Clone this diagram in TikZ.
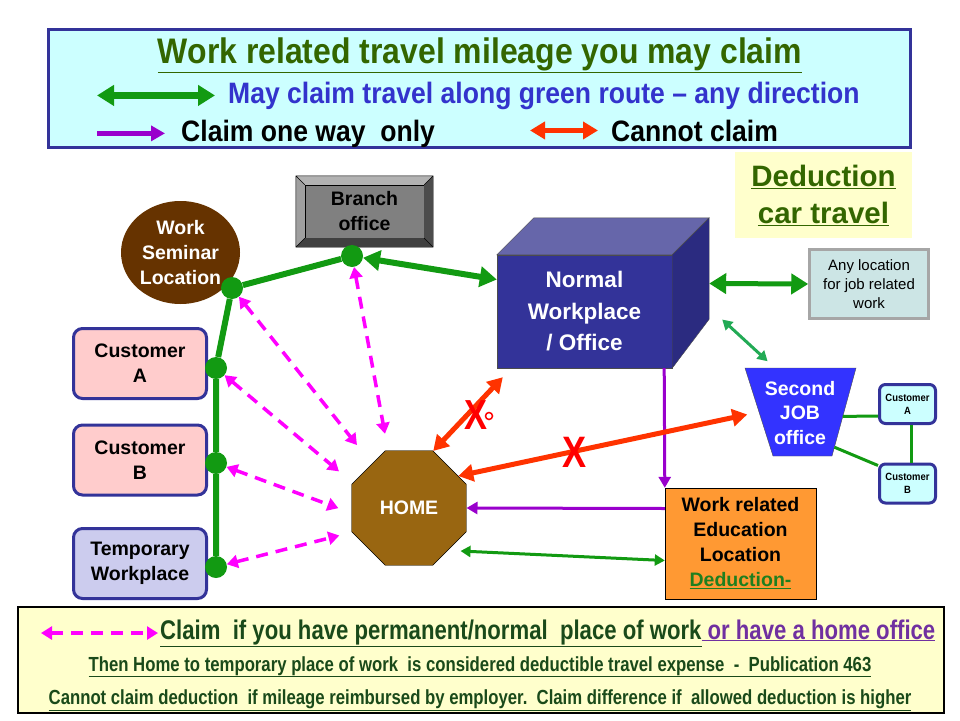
\documentclass[tikz,border=0pt]{standalone}
\usepackage{fontspec}
\setmainfont{Liberation Sans}
\newfontfamily\condfont[FakeStretch=0.9]{Liberation Sans}
\newfontfamily\narrowfont[FakeStretch=0.82]{Liberation Sans}
\usetikzlibrary{arrows.meta,shapes.geometric,calc}

\definecolor{legendfill}{HTML}{CCFFFF}
\definecolor{boxnavy}{HTML}{333399}
\definecolor{titlegreen}{HTML}{336600}
\definecolor{routeblue}{HTML}{3333CC}
\definecolor{routegreen}{HTML}{129A12}
\definecolor{lightgreen}{HTML}{22AA55}
\definecolor{onewaypurple}{HTML}{9900CC}
\definecolor{nogored}{HTML}{FF3300}
\definecolor{dashpink}{HTML}{FF00FF}
\definecolor{seminarbrown}{HTML}{663300}
\definecolor{homebrown}{HTML}{996611}
\definecolor{cubefront}{HTML}{333399}
\definecolor{cubetop}{HTML}{6666AA}
\definecolor{cubeside}{HTML}{2B2B80}
\definecolor{anyfill}{HTML}{CCE5E5}
\definecolor{jobblue}{HTML}{3333FF}
\definecolor{custpink}{HTML}{FFCCCC}
\definecolor{templilac}{HTML}{CCCCEE}
\definecolor{eduorange}{HTML}{FF9933}
\definecolor{dedgreen}{HTML}{1F7F1F}
\definecolor{notefill}{HTML}{FFFFCC}
\definecolor{notegreen}{HTML}{1A4A1A}
\definecolor{homeoffice}{HTML}{7030A0}

\begin{document}
\begin{tikzpicture}[x=1pt,y=-1pt,
    every node/.style={inner sep=0pt},
    txt/.style={align=center,font=\fontsize{19.5}{25}\selectfont\bfseries},
    greendot/.style={circle,fill=routegreen,minimum size=22pt},
    route/.style={draw=routegreen,line width=6pt},
    routearrow/.style={route,{Triangle[width=20pt,length=17pt]}-{Triangle[width=20pt,length=17pt]}},
    thinroute/.style={draw=#1,line width=3pt,{Triangle[width=11pt,length=10pt]}-{Triangle[width=11pt,length=10pt]}},
    oneway/.style={draw=onewaypurple,line width=3pt,-{Triangle[width=12pt,length=11pt]}},
    noclaim/.style={draw=nogored,line width=5pt,{Triangle[width=17pt,length=15pt]}-{Triangle[width=17pt,length=15pt]}},
    homeclaim/.style={draw=dashpink,line width=3.5pt,dash pattern=on 12pt off 8pt,{Triangle[width=13pt,length=11pt]}-{Triangle[width=13pt,length=11pt]}},
    custbox/.style={txt,draw=boxnavy,line width=3pt,rounded corners=9pt,minimum width=133pt,minimum height=70pt},
    smallcust/.style={align=center,font=\condfont\fontsize{10.5}{13}\selectfont\bfseries,draw=boxnavy,line width=3pt,rounded corners=6pt,fill=legendfill,minimum width=56pt,minimum height=39pt}]
  \useasboundingbox (0,0) rectangle (960,720);

  % LEGEND BOX
  \node[draw=boxnavy,line width=3pt,fill=legendfill,minimum width=862pt,minimum height=118pt] (legend) at (479.5,88.5) {};
  \node[anchor=base,font=\condfont\fontsize{35.5}{40}\selectfont\bfseries,text=titlegreen] (title) at (480,63) {\underline{Work related travel mileage you may claim}};
  \node[anchor=base west,font=\condfont\fontsize{29.5}{34}\selectfont\bfseries,text=routeblue] (anydir) at (228,103) {May claim travel along green route – any direction};
  \node[anchor=base west,font=\condfont\fontsize{29.5}{34}\selectfont\bfseries] (onewaytxt) at (181,141) {Claim one way\ \ only};
  \node[anchor=base west,font=\condfont\fontsize{29.5}{34}\selectfont\bfseries] (noclaimtxt) at (611,141) {Cannot claim};
  \draw[routearrow,line width=7pt] ([xshift=-131pt]anydir.west) -- ([xshift=-13pt]anydir.west);
  \draw[oneway,line width=5pt,-{Triangle[width=15pt,length=14pt]}] ([xshift=-84pt]onewaytxt.west) -- ([xshift=-16pt]onewaytxt.west);
  \draw[noclaim] ([xshift=-81pt]noclaimtxt.west) -- ([xshift=-13pt]noclaimtxt.west);

  % DEDUCTION BOX
  \node[fill=notefill,minimum width=177pt,minimum height=86pt,align=center,text=titlegreen,
        font=\fontsize{29.5}{37}\selectfont\bfseries] (deduct) at (823.5,195) {\underline{Deduction}\\\underline{car travel}};

  % BRANCH OFFICE
  \node[txt,fill=gray,draw=black,thin,minimum width=119pt,minimum height=53pt] (branch) at (364.5,211.5) {Branch\\office};
  \path (branch.north west) ++(-9,-9) coordinate (bnw)
        (branch.north east) ++(9,-9) coordinate (bne)
        (branch.south east) ++(9,9) coordinate (bse)
        (branch.south west) ++(-9,9) coordinate (bsw);
  \fill[gray!60] (bnw) -- (bne) -- (branch.north east) -- (branch.north west) -- cycle;
  \fill[gray!75] (bnw) -- (branch.north west) -- (branch.south west) -- (bsw) -- cycle;
  \fill[black!70] (bne) -- (bse) -- (branch.south east) -- (branch.north east) -- cycle;
  \fill[black!75] (bsw) -- (branch.south west) -- (branch.south east) -- (bse) -- cycle;
  \draw[thin] (bnw) rectangle (bse) (bnw) -- (branch.north west) (bne) -- (branch.north east)
              (bse) -- (branch.south east) (bsw) -- (branch.south west);

  % SEMINAR AND CUSTOMERS
  \node[txt,ellipse,fill=seminarbrown,text=white,minimum width=119pt,minimum height=103pt] (seminar) at (180.5,252.5) {Work\\Seminar\\Location};
  \node[custbox,fill=custpink] (custa) at (140,363.5) {Customer\\A};
  \node[custbox,fill=custpink] (custb) at (140,460) {Customer\\B};
  \node[custbox,fill=templilac] (temp) at (140,563.5) {Temporary\\Workplace};

  % NORMAL WORKPLACE CUBE
  \node[txt,font=\fontsize{22.5}{31.5}\selectfont\bfseries,fill=cubefront,draw=black!70,thin,text=white,
        minimum width=175pt,minimum height=113pt] (office) at (584.5,311.5) {Normal\\Workplace\\/ Office};
  \filldraw[fill=cubetop,draw=black!70,thin] (office.north west) -- ++(37,-37) -- ($(office.north east)+(37,-37)$) -- (office.north east) -- cycle;
  \filldraw[fill=cubeside,draw=black!70,thin] (office.north east) -- ++(37,-37) -- ($(office.south east)+(37,-49)$) -- (office.south east) -- cycle;

  \node[draw=gray!70,line width=2.5pt,fill=anyfill,minimum width=119pt,minimum height=69pt,align=center,
        font=\fontsize{15}{19}\selectfont] (anyloc) at (869,284) {Any location\\for job related\\work};

  % SECOND JOB
  \coordinate (jtl) at (745,368);
  \coordinate (jtr) at (856,368);
  \coordinate (jbr) at (832,456);
  \coordinate (jbl) at (773,456);
  \filldraw[fill=jobblue,draw=black!70,thin] (jtl) -- (jtr) -- (jbr) -- (jbl) -- cycle;
  \node[txt,font=\fontsize{19.5}{24.5}\selectfont\bfseries,text=white] (job) at (800,413) {Second\\JOB\\office};
  \node[smallcust] (jcusta) at (907.5,404) {Customer\\A};
  \node[smallcust] (jcustb) at (907.5,483.5) {Customer\\B};
  \draw[routegreen,line width=3pt] ($(jtr)!0.55!(jbr)$) -- ([yshift=-12pt]jcusta.west);
  \draw[routegreen,line width=3pt] ($(jtr)!0.9!(jbr)$) -- ([yshift=18pt]jcustb.west);
  \draw[routegreen,line width=3pt] ([xshift=4pt]jcusta.south) -- ([xshift=4pt]jcustb.north);

  % HOME AND EDUCATION
  \node[txt,regular polygon,regular polygon sides=8,minimum size=124pt,fill=homebrown,draw=black,thin,text=white] (home) at (409,508) {HOME};
  \node[txt,draw=black,thin,fill=eduorange,minimum width=151pt,minimum height=111pt] (edu) at (740.5,543.5)
       {Work related\\Education\\Location\\\textcolor{dedgreen}{\underline{Deduction-}}};

  % GREEN ROUTE
  \node[greendot] (dsem) at (232,288) {};
  \node[greendot] (dbranch) at (352,256) {};
  \node[greendot] (dcusta) at (216,368) {};
  \node[greendot] (dcustb) at (216,463) {};
  \node[greendot] (dtemp) at (216,567) {};
  \draw[route] (dsem) -- (dbranch) (dsem) -- (dcusta) (dcusta) -- (dcustb) (dcustb) -- (dtemp);
  \draw[routearrow] (dbranch) -- ([yshift=32pt]office.west);
  \draw[routearrow,line width=5pt] ([xshift=37pt,yshift=28pt]office.east) -- (anyloc.west);
  \draw[thinroute=lightgreen,shorten >=10pt] ([xshift=50pt,yshift=-8pt]office.east) -- ($(jtl)!0.27!(jtr)$);
  \draw[thinroute=routegreen] ([xshift=-6pt,yshift=-43pt]home.east) -- ([yshift=-17pt]edu.west);

  % ONE WAY
  \draw[oneway] ([xshift=-8pt]office.south east) -- (edu.north west);
  \draw[oneway] ([yshift=35pt]edu.west) -- (home.east);

  % CANNOT CLAIM
  \draw[noclaim] (home.67.5) -- ([xshift=6pt,yshift=-9pt]office.south west);
  \draw[noclaim,shorten >=12pt] (home.33) -- ($(jtl)!0.5!(jbl)$);
  \node[font=\narrowfont\fontsize{42}{42}\selectfont\bfseries,text=red] (xa) at (476,415) {X};
  \draw[red,line width=1.5pt] (489,416) circle (3.5pt);
  \node[font=\narrowfont\fontsize{44}{44}\selectfont\bfseries,text=red] (xb) at (575,452) {X};

  % HOME CLAIM
  \draw[homeclaim,shorten >=24pt] (dsem) -- (home.130);
  \draw[homeclaim,shorten >=17pt] (dbranch) -- (home.110);
  \draw[homeclaim,shorten >=18pt] (dcusta) -- (home.156);
  \draw[homeclaim,shorten >=14pt] (dcustb) -- (home.185);
  \draw[homeclaim,shorten >=13pt] (dtemp) -- (home.203);

  % NOTES BOX
  \node[draw=black,line width=1.5pt,fill=notefill,minimum width=926pt,minimum height=106pt] (notes) at (481,660) {};
  \node[anchor=base west,font=\narrowfont\fontsize{27}{30}\selectfont\bfseries,text=notegreen] (permline) at (160,639)
       {\underline{Claim\ \ if you have permanent/normal\ \ place of work}\textcolor{homeoffice}{\underline{\ or have a home office}}};
  \draw[homeclaim] ([xshift=-119pt]permline.west) -- ([xshift=-2pt]permline.west);
  \node[anchor=base,font=\narrowfont\fontsize{20.4}{24}\selectfont\bfseries,text=notegreen] (publine) at (480,671)
       {\underline{Then Home to temporary place of work\ \ is considered deductible travel expense\ \ -\ \ Publication 463}};
  \node[anchor=base,font=\narrowfont\fontsize{20.4}{24}\selectfont\bfseries,text=notegreen] (cannotline) at (480,704)
       {\underline{Cannot claim deduction\ \ if mileage reimbursed by employer.\ \ Claim difference if\ \ allowed deduction is higher}};
\end{tikzpicture}
\end{document}
